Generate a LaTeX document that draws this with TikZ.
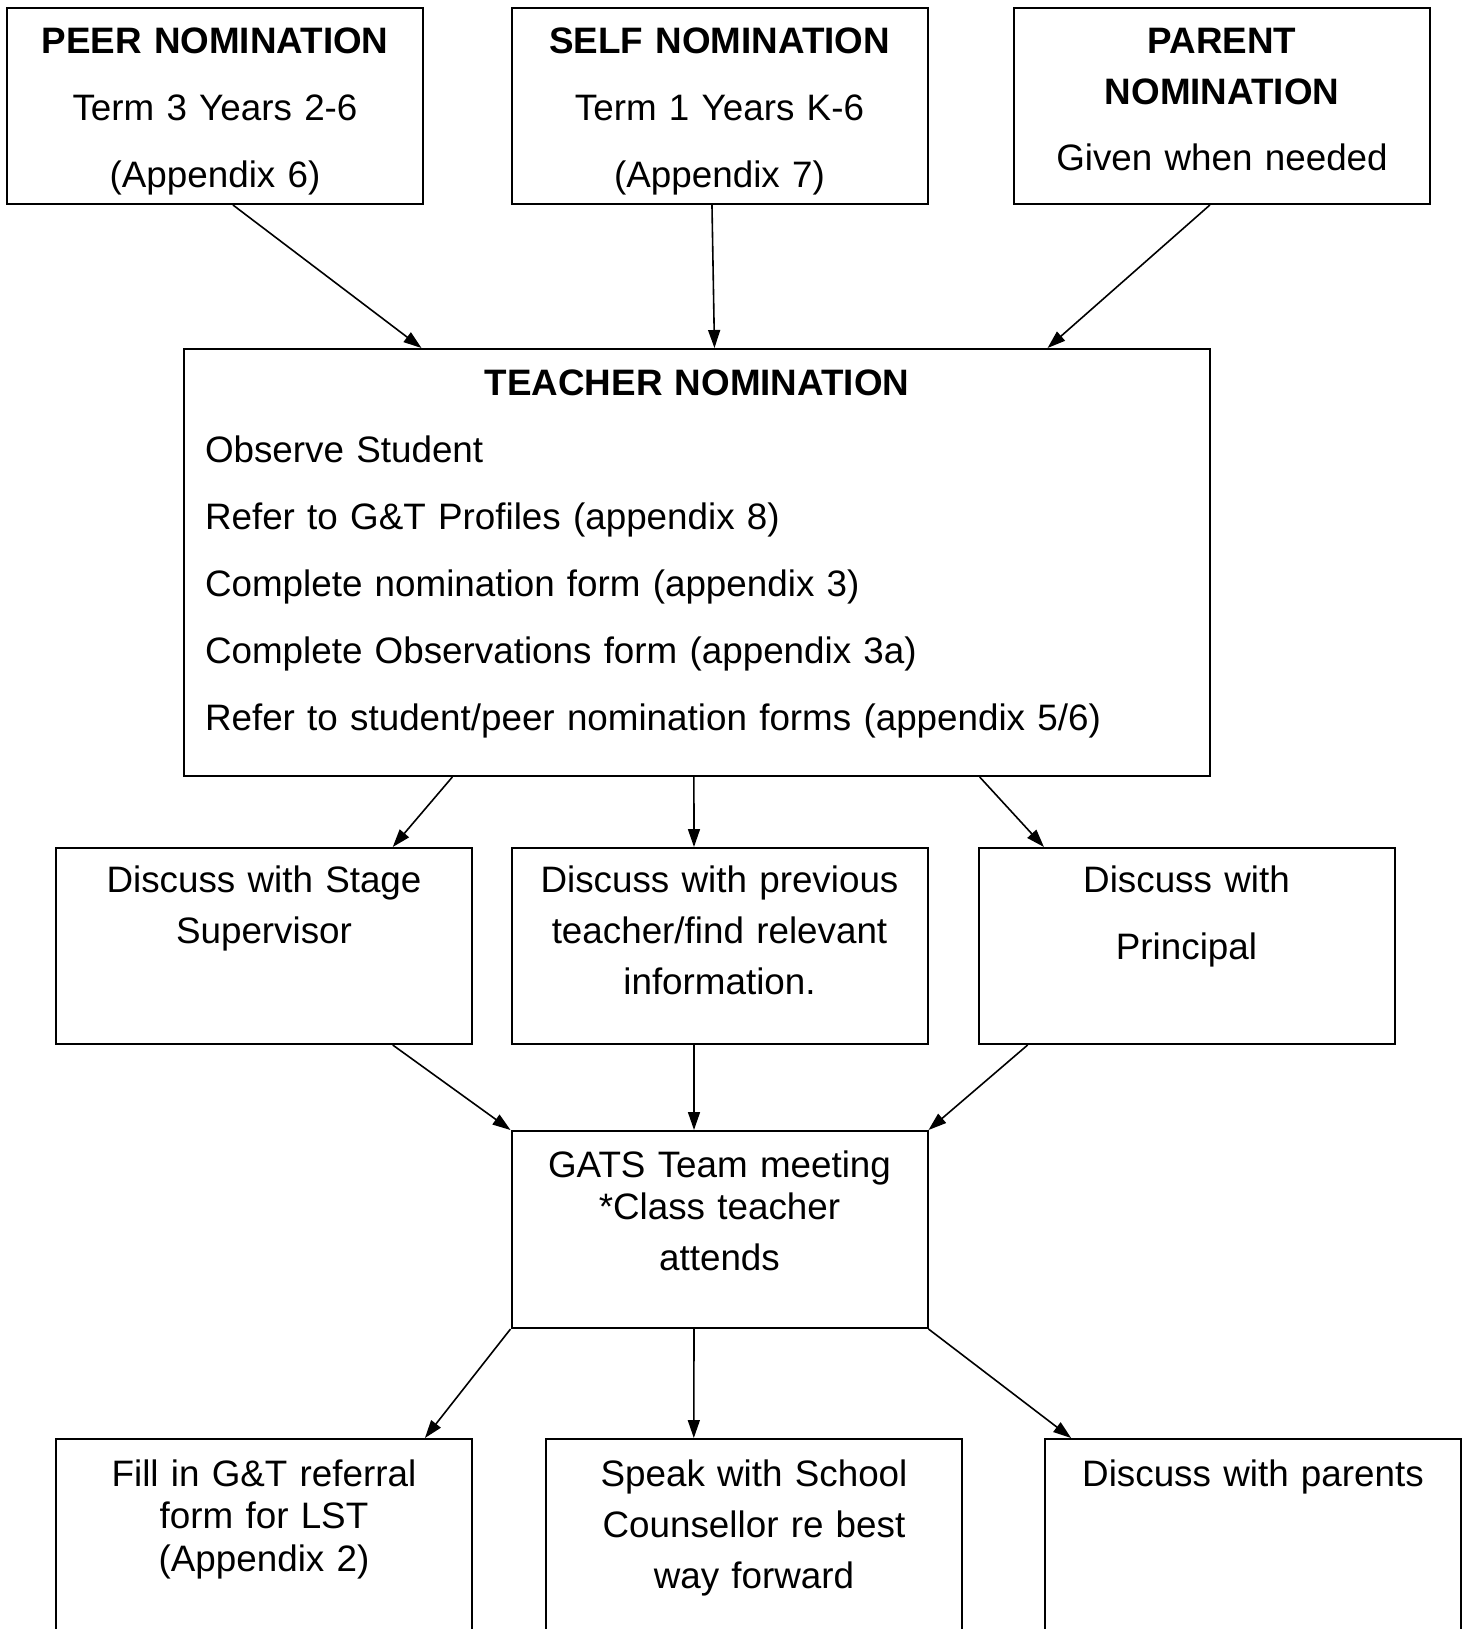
\documentclass[tikz,border=0pt]{standalone}
\usepackage{fontspec}
\setmainfont{Liberation Sans}
\usetikzlibrary{arrows.meta,calc}

\begin{document}
\begin{tikzpicture}[x=0.5pt,y=0.5pt]
    \tikzstyle{every node}+=[inner sep=0pt]
    \tikzstyle{stepbox}=[draw=black, line width=1pt, text width=208pt, align=center, text height=22.5pt, text depth=75.5pt, font=\fontsize{18.4}{21.3}\selectfont]
    \tikzstyle{arr}=[black, line width=0.8pt, -{Triangle[length=9pt,width=6pt]}]
    \clip (0,0) rectangle (1468,-1629);
    \node [stepbox] (peer) at (215,-106) {\textbf{PEER NOMINATION}\\[12.2pt]Term 3 Years 2-6\\[12.2pt](Appendix 6)};
    \node [stepbox] (self) at (719.5,-106) {\textbf{SELF NOMINATION}\\[12.2pt]Term 1 Years K-6\\[12.2pt](Appendix 7)};
    \node [stepbox] (parent) at (1222,-106) {\textbf{PARENT}\\[4.2pt]\textbf{NOMINATION}\\[12pt]Given when needed};
    \node [stepbox, align=left, text width=492pt, inner xsep=10.5pt, text height=23pt, text depth=190.5pt] (teacher) at (697,-562.5) {\makebox[\linewidth]{\textbf{TEACHER NOMINATION}}\\[12.2pt]Observe Student\\[12.2pt]Refer to G\&T Profiles (appendix 8)\\[12.2pt]Complete nomination form (appendix 3)\\[12.2pt]Complete Observations form (appendix 3a)\\[12.2pt]Refer to student/peer nomination forms (appendix 5/6)};
    \node [stepbox, text height=22pt, text depth=76pt] (stage) at (264,-946) {Discuss with Stage\\[4.2pt]Supervisor};
    \node [stepbox, text height=22pt, text depth=76pt] (previous) at (719.5,-946) {Discuss with previous\\[4.2pt]teacher/find relevant\\[4.2pt]information.};
    \node [stepbox, text height=22pt, text depth=76pt] (principal) at (1186.5,-946) {Discuss with\\[12.2pt]Principal};
    \node [stepbox, text height=23pt, text depth=75.5pt] (gats) at (719.5,-1229.5) {GATS Team meeting\\{}*Class teacher\\[4.2pt]attends};
    \node [stepbox, anchor=north, text height=23.5pt, text depth=150pt] (referral) at (264,-1438) {Fill in G\&T referral\\form for LST\\(Appendix 2)};
    \node [stepbox, anchor=north, text height=23.5pt, text depth=150pt] (counsellor) at (754,-1438) {Speak with School\\[4.2pt]Counsellor re best\\[4.2pt]way forward};
    \node [stepbox, anchor=north, text height=23.5pt, text depth=150pt] (parents) at (1253,-1438) {Discuss with parents};
    \draw [arr] ($(peer.south west)!.543!(peer.south east)$) -- ($(teacher.north west)!.232!(teacher.north east)$);
    \draw [arr] ($(self.south west)!.482!(self.south east)$) -- ($(teacher.north west)!.517!(teacher.north east)$);
    \draw [arr] ($(parent.south west)!.471!(parent.south east)$) -- ($(teacher.north west)!.841!(teacher.north east)$);
    \draw [arr] ($(teacher.south west)!.262!(teacher.south east)$) -- ($(stage.north west)!.808!(stage.north east)$);
    \draw [arr] ($(teacher.south west)!.497!(teacher.south east)$) -- ($(previous.north west)!.439!(previous.north east)$);
    \draw [arr] ($(teacher.south west)!.775!(teacher.south east)$) -- ($(principal.north west)!.159!(principal.north east)$);
    \draw [arr] ($(stage.south west)!.808!(stage.south east)$) -- (gats.north west);
    \draw [arr] ($(previous.south west)!.439!(previous.south east)$) -- ($(gats.north west)!.439!(gats.north east)$);
    \draw [arr] ($(principal.south west)!.12!(principal.south east)$) -- (gats.north east);
    \draw [arr] (gats.south west) -- ($(referral.north west)!.885!(referral.north east)$);
    \draw [arr] ($(gats.south west)!.439!(gats.south east)$) -- ($(counsellor.north west)!.356!(counsellor.north east)$);
    \draw [arr] (gats.south east) -- ($(parents.north west)!.065!(parents.north east)$);
\end{tikzpicture}
\end{document}
